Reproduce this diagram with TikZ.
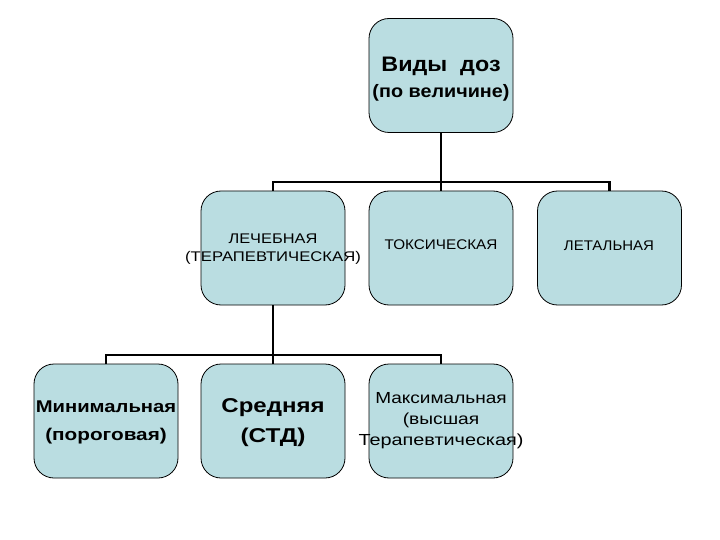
\documentclass[tikz,border=0pt]{standalone}
\usepackage{fontspec}
\setmainfont{Liberation Sans}
\definecolor{boxfill}{RGB}{186,221,225}
\newcommand{\sxx}[2]{\scalebox{#1}[1]{#2}}
\begin{document}
\begin{tikzpicture}[x=1pt,y=-1pt,
  box/.style={draw=black,line width=0.8pt,fill=boxfill,rounded corners=20pt,minimum width=144pt,minimum height=114pt,inner sep=0pt},
  lbl/.style={align=center,inner sep=0pt},
  conn/.style={draw=black,line width=2.4pt}]
\useasboundingbox[fill=white] (0,0) rectangle (720,540);
% boxes
\node[box] (top) at (441,75.5) {};
\node[box] (lech) at (273,248) {};
\node[box] (tox) at (441,248) {};
\node[box] (let) at (609.5,248) {};
\node[box] (min) at (106,421) {};
\node[box] (sred) at (273,421) {};
\node[box] (max) at (441,421) {};
% texts
\node[lbl,font=\bfseries\fontsize{21}{24}\selectfont] at (441,66) {\sxx{1.11}{Виды\ \ доз}};
\node[lbl,font=\bfseries\fontsize{18}{20}\selectfont] at (441,93) {\sxx{1.1}{(по величине)}};
\node[lbl,font=\fontsize{14}{18}\selectfont] at (273,249) {\sxx{1.17}{ЛЕЧЕБНАЯ}\\\sxx{1.19}{(ТЕРАПЕВТИЧЕСКАЯ)}};
\node[lbl,font=\fontsize{14}{16}\selectfont] at (441,245) {\sxx{1.09}{ТОКСИЧЕСКАЯ}};
\node[lbl,font=\fontsize{14}{16}\selectfont] at (609,246) {\sxx{1.07}{ЛЕТАЛЬНАЯ}};
\node[lbl,font=\bfseries\fontsize{17}{28}\selectfont] at (106,422) {\sxx{1.19}{Минимальная}\\\sxx{1.22}{(пороговая)}};
\node[lbl,font=\bfseries\fontsize{20}{30}\selectfont] at (273,423) {\sxx{1.2}{Средняя}\\\sxx{1.22}{(СТД)}};
\node[lbl,font=\fontsize{16}{21}\selectfont] at (441,421) {\sxx{1.19}{Максимальная}\\\sxx{1.2}{(высшая}\\\sxx{1.24}{Терапевтическая)}};
% connectors
\coordinate (bar1) at (441,182);
\coordinate (bar2) at (273,355);
\draw[conn] (top.south) -- (bar1);
\draw[conn] (lech.north) |- (bar1) -| (let.north);
\draw[conn] (tox.north) -- (tox.north |- bar1);
\draw[conn] (lech.south) -- (bar2);
\draw[conn] (min.north) |- (bar2) -| (max.north);
\draw[conn] (sred.north) -- (sred.north |- bar2);
\end{tikzpicture}
\end{document}
